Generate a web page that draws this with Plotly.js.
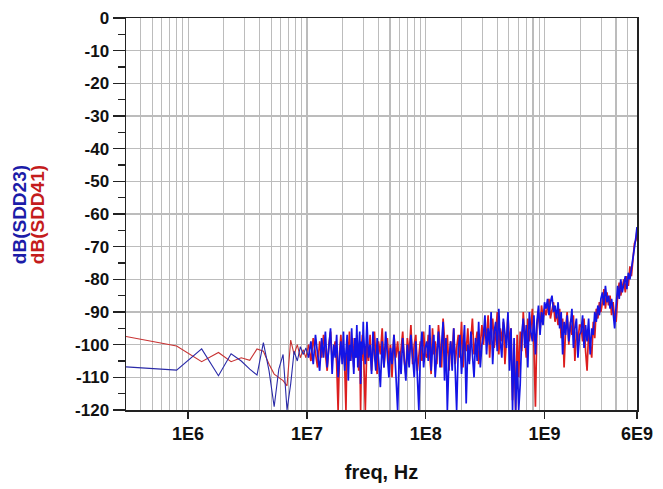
<!DOCTYPE html>
<html><head><meta charset="utf-8">
<script src="https://cdn.plot.ly/plotly-3.0.1.min.js"></script>
<style>html,body{margin:0;padding:0;background:#fff}#chart{width:663px;height:489px}</style>
</head><body><div id="chart"></div>
<script>
// ---- data (frequencies in MHz, values in dB) ----
const freqLowMHz = [0.3,0.8,1.3,1.8,2.3,2.8,3.3,3.8,4.3,4.8,5.3,5.8,6.3,6.8,7.3,7.8,8.3,8.8,9.3,9.8];
const sdd23Low = [-106.8,-107.8,-101.3,-109.5,-102.8,-105,-107.5,-109.3,-99.4,-108,-119,-107.5,-103,-120,-112,-102,-105,-100.6,-103,-101];
const sdd41Low = [-97.5,-100.4,-105.2,-102.4,-105.2,-104,-104.8,-101.3,-102,-106,-109,-110,-111,-112.6,-98.6,-103,-100,-104,-101.5,-104];

const freqMidMHz = [10.3,10.8,11.3,11.8,12.3,12.8,13.3,13.8,14.3,14.8,15.3,15.8,16.3,16.8,17.3,17.8,18.3,18.8,19.3,19.8,20.3,20.8,21.3,21.8,22.3,22.8,23.3,23.8,24.3,24.8,25.3,25.8,26.3,26.8,27.3,27.8,28.3,28.8,29.3,29.8];
const sdd23Mid = [-104,-99,-106,-97,-103,-108,-98,-104,-96,-107,-101,-95,-109,-100,-104,-97,-110,-103,-99,-106,-96,-108,-102,-97,-111,-100,-105,-95,-103,-109,-98,-104,-94,-107,-101,-96,-112,-99,-103,-93];
const sdd41Mid = [-100,-105,-98,-103,-107,-99,-104,-97,-102,-108,-100,-96,-105,-101,-99,-106,-120,-103,-97,-104,-101,-107,-120,-99,-103,-96,-105,-102,-98,-107,-100,-104,-97,-103,-108,-99,-120,-101,-97,-105];

const freqHighMHz = [
  30,31,32,33,34,35,36,37,38,39,40,41.5,43,44.5,46,47.5,49,50.5,52,54,56,58,60,62,64,66,68,70,72.5,75,77.5,80,82.5,85,87.5,90,93,96,99,
  102,105,108,111,114,117,120,124,128,132,136,140,144,148,152,157,162,167,172,177,182,188,194,200,206,212,219,226,233,240,247,255,263,271,279,288,297,
  306,315,325,335,345,355,366,377,388,400,412,424,437,450,464,478,492,507,522,538,554,571,588,
  606,624,643,662,682,702,723,745,767,790,814,838,863,889,916,943,971,1000,
  1030,1060,1090,1120,1155,1190,1225,1260,1300,1340,1380,1420,1460,1505,1550,1600,1650,1700,1750,1800,1855,1910,1970,
  2030,2090,2150,2215,2280,2350,2420,2495,2570,2645,2725,2810,2895,2980,
  3070,3160,3255,3355,3455,3560,3665,3775,3890,4005,4125,4250,4380,4510,4645,4785,4930,5075,5230,5385,5545,5710,5880,6000];
const sdd23High = [
  -97,-106,-93,-104,-100,-109,-96,-103,-108,-98,-105,-113,-99,-107,-96,-104,-110,-101,-106,-97,-108,-120,-102,-109,-98,-106,-111,-100,-107,-97,-104,-110,-99,-108,-120,-103,-96,-107,-101,
  -99,-105,-94,-108,-101,-97,-110,-103,-96,-107,-100,-93,-111,-98,-120,-104,-99,-108,-95,-106,-120,-101,-97,-109,-102,-94,-118,-100,-106,-96,-103,-110,-98,-105,-93,-107,-100,
  -97,-91,-103,-95,-100,-90,-106,-96,-93,-102,-89,-99,-104,-92,-97,-101,-90,-108,-95,-120,-98,-120,-105,
  -120,-112,-97,-92,-101,-94,-107,-90,-96,-99,-91,-103,-93,-88,-97,-90,-94,-87,
  -89,-86,-91,-87,-85,-90,-88,-92,-87,-95,-90,-103,-93,-97,-91,-99,-94,-89,-101,-95,-92,-104,-97,
  -96,-91,-101,-94,-99,-92,-103,-95,-97,-90,-93,-88,-91,-86,
  -84,-88,-82,-87,-85,-89,-86,-90,-95,-88,-82,-86,-80,-84,-81,-79,-83,-78,-80,-77,-73,-71,-67,-64];
const sdd41High = [
  -103,-120,-99,-105,-97,-108,-101,-96,-104,-109,-99,-103,-95,-107,-101,-98,-106,-100,-110,-97,-104,-99,-107,-102,-96,-105,-109,-98,-103,-94,-106,-100,-97,-108,-102,-99,-105,-96,-103,
  -104,-97,-102,-109,-95,-103,-99,-106,-94,-101,-107,-92,-100,-105,-97,-108,-99,-103,-95,-106,-101,-97,-104,-93,-107,-99,-102,-95,-105,-98,-92,-103,-100,-96,-106,-99,-94,
  -100,-94,-98,-91,-104,-96,-92,-101,-97,-90,-103,-95,-99,-93,-106,-97,-91,-100,-95,-117,-102,-120,-97,
  -110,-96,-102,-90,-98,-104,-92,-99,-95,-89,-101,-119,-94,-90,-96,-88,-92,-89,
  -91,-88,-86,-92,-89,-87,-93,-90,-94,-89,-98,-92,-107,-95,-90,-100,-93,-97,-91,-105,-96,-99,-94,
  -94,-99,-92,-102,-108,-96,-100,-104,-93,-98,-89,-92,-87,-90,
  -87,-83,-89,-84,-88,-85,-91,-87,-92,-93,-85,-81,-85,-82,-80,-84,-79,-82,-76,-79,-75,-69,-68,-65];

const xTickVals = [1e6, 1e7, 1e8, 1e9, 6e9];
const xTickText = ['1E6', '1E7', '1E8', '1E9', '6E9'];
const yTickVals = [0,-10,-20,-30,-40,-50,-60,-70,-80,-90,-100,-110,-120];
const yTickText = ['0','-10','-20','-30','-40','-50','-60','-70','-80','-90','-100','-110','-120'];
const seriesNames = ['dB(SDD23)', 'dB(SDD41)'];

// ---- build ----
const toHz = a => a.map(v => v * 1e6);
// sparse low-frequency part (thin line), joined to the first mid point
const xLow = toHz(freqLowMHz.concat(freqMidMHz.slice(0, 1)));
const y23Low = sdd23Low.concat(sdd23Mid.slice(0, 1));
const y41Low = sdd41Low.concat(sdd41Mid.slice(0, 1));
// dense part (thicker line)
const xDense = toHz(freqMidMHz.concat(freqHighMHz));
const y23Dense = sdd23Mid.concat(sdd23High);
const y41Dense = sdd41Mid.concat(sdd41High);

// minor grid positions (axis decoration)
const gridVals = [];
for (let e = 5; e <= 9; e++) {
  for (let m = 2; m <= 9; m++) {
    const v = m * Math.pow(10, e);
    if (v > 3e5 && v <= 6e9) gridVals.push(v);
  }
}

const BLUE = '#1414e6', RED = '#dc1e1e';
const BLUE_THIN = '#2a2aa8', RED_THIN = '#c83232';
const traces = [
  {x: xLow, y: y41Low, type: 'scatter', mode: 'lines', name: seriesNames[1],
   line: {color: RED_THIN, width: 1.1}, hoverinfo: 'skip'},
  {x: xDense, y: y41Dense, type: 'scatter', mode: 'lines', name: seriesNames[1],
   line: {color: RED, width: 1.7}, hoverinfo: 'skip'},
  {x: xLow, y: y23Low, type: 'scatter', mode: 'lines', name: seriesNames[0],
   line: {color: BLUE_THIN, width: 1.1}, hoverinfo: 'skip'},
  {x: xDense, y: y23Dense, type: 'scatter', mode: 'lines', name: seriesNames[0],
   line: {color: BLUE, width: 1.7}, hoverinfo: 'skip'}
];

const font = 'Liberation Sans, Arial, sans-serif';
const GRID = '#bcbcbc';
const layout = {
  width: 663, height: 489,
  margin: {l: 126, r: 26, t: 18, b: 79, pad: 0},
  paper_bgcolor: '#fff', plot_bgcolor: '#fff',
  showlegend: false,
  font: {family: font, color: '#111'},
  xaxis: {
    type: 'log', range: [Math.log10(3e5), Math.log10(6e9)],
    tickmode: 'array', tickvals: xTickVals, ticktext: xTickText,
    ticks: 'outside', ticklen: 7, tickwidth: 1.5, tickcolor: '#222',
    tickfont: {family: font, size: 18, color: '#111', weight: 'bold'},
    showgrid: true, gridcolor: GRID, gridwidth: 1.2,
    minor: {tickmode: 'array', tickvals: gridVals, showgrid: true, gridcolor: GRID, gridwidth: 1.2, ticks: ''},
    showline: true, linecolor: '#222', linewidth: 1.5, mirror: true,
    zeroline: false,
    title: {text: '<b>freq, Hz</b>', font: {family: font, size: 20, color: '#111'}, standoff: 22}
  },
  yaxis: {
    range: [-120, 0],
    tickmode: 'array', tickvals: yTickVals, ticktext: yTickText,
    ticks: 'outside', ticklen: 12, tickwidth: 1.5, tickcolor: '#222',
    tickfont: {family: font, size: 17, color: '#111', weight: 'bold'},
    showgrid: true, gridcolor: GRID, gridwidth: 1.2,
    minor: {dtick: 5, ticks: 'outside', ticklen: 7, tickwidth: 1.2, tickcolor: '#222', showgrid: false},
    showline: true, linecolor: '#222', linewidth: 1.5, mirror: true,
    zeroline: false
  },
  annotations: [
    {text: '<b>' + seriesNames[0] + '</b>', xref: 'paper', yref: 'paper',
     x: (19 - 126) / 511, y: 0.497, xanchor: 'center', yanchor: 'middle',
     textangle: -90, showarrow: false, font: {family: font, size: 19, color: '#1c1ca8'}},
    {text: '<b>' + seriesNames[1] + '</b>', xref: 'paper', yref: 'paper',
     x: (37 - 126) / 511, y: 0.497, xanchor: 'center', yanchor: 'middle',
     textangle: -90, showarrow: false, font: {family: font, size: 19, color: '#c41c1c'}}
  ]
};

Plotly.newPlot('chart', traces, layout, {staticPlot: true, displayModeBar: false});
</script>
</body></html>
